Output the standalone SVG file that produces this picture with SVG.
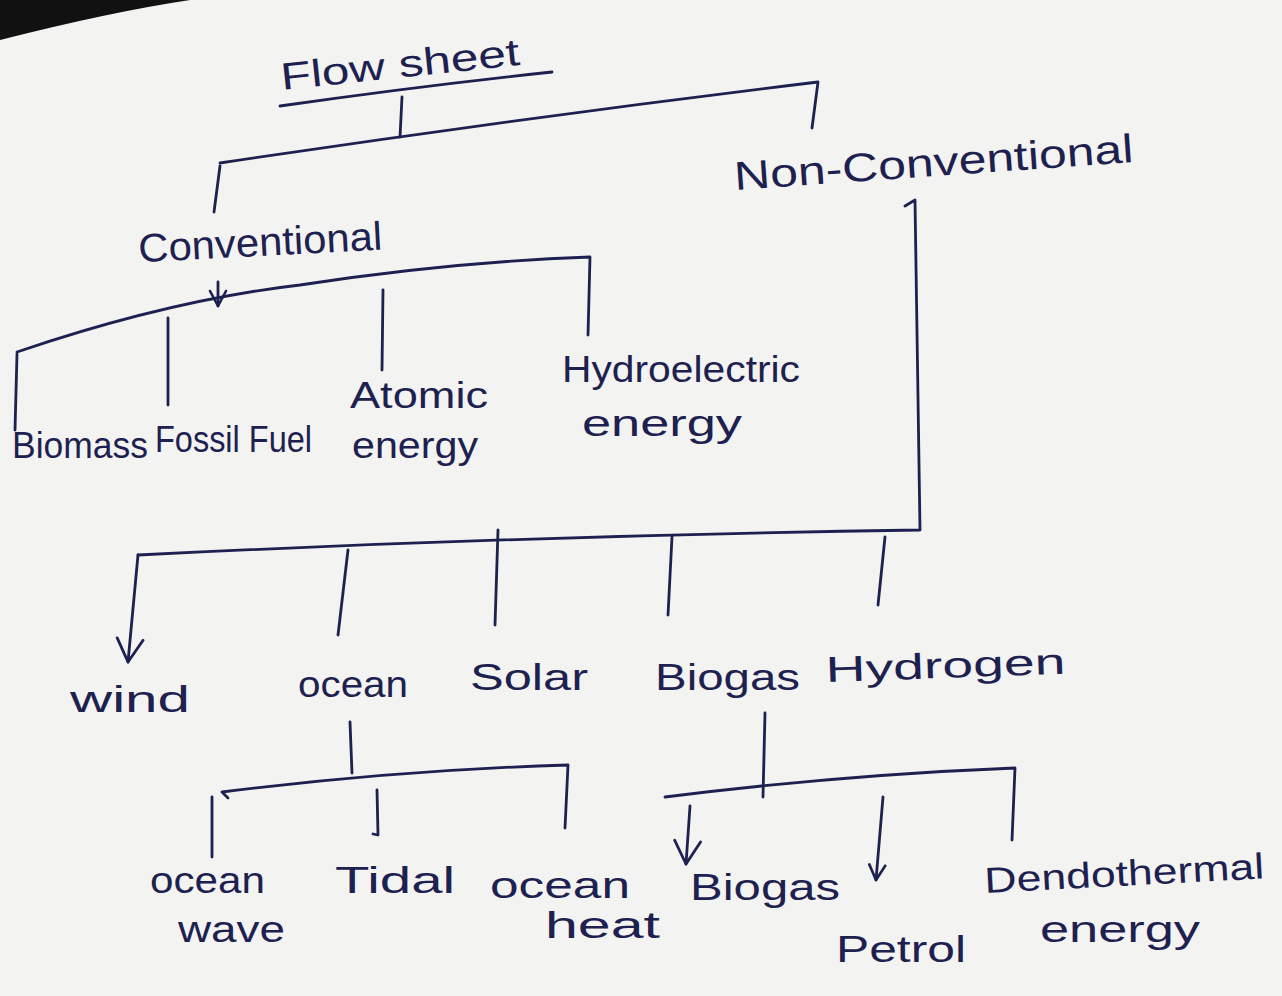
<svg xmlns="http://www.w3.org/2000/svg" width="1282" height="996" viewBox="0 0 1282 996">
  <defs>
    <style>
      .ink { fill: none; stroke: #1d2150; stroke-width: 2.8; stroke-linecap: round; stroke-linejoin: round; }
      .lbl { fill: #1d2150; font-family: "Liberation Sans", "DejaVu Sans", sans-serif; font-size: 36px; }
      .big { font-size: 40px; }
    </style>
    <!-- open V arrowheads, tip at the end of the line -->
    <marker id="vhead" viewBox="0 0 20 20" refX="18" refY="10" markerWidth="20" markerHeight="20" markerUnits="userSpaceOnUse" orient="auto">
      <path d="M3,2 L18,10 L3,18" fill="none" stroke="#1d2150" stroke-width="2.6" stroke-linecap="round" stroke-linejoin="round"/>
    </marker>
    <marker id="vhead-lg" viewBox="0 0 30 30" refX="27" refY="15" markerWidth="30" markerHeight="30" markerUnits="userSpaceOnUse" orient="auto">
      <path d="M4,2 L27,15 L4,28" fill="none" stroke="#1d2150" stroke-width="2.8" stroke-linecap="round" stroke-linejoin="round"/>
    </marker>
  </defs>

  <!-- paper -->
  <rect width="1282" height="996" fill="#f3f3f1"/>
  <path d="M0,0 L190,0 Q110,12 0,40 Z" fill="#111"/>

  <!-- connectors -->
  <g id="connectors" class="ink">
    <!-- title underline and stem -->
    <path d="M280,106 Q420,86 552,72"/>
    <path d="M402,97 L400,137"/>
    <!-- root split -->
    <path d="M220,163 Q520,118 818,82 L812,128"/>
    <path d="M220,166 L214,212"/>
    <!-- conventional split -->
    <path d="M218,282 L218,306" marker-end="url(#vhead)"/>
    <path d="M17,352 Q170,300 300,285 Q450,262 590,257 L588,335"/>
    <path d="M17,354 L15,430"/>
    <path d="M168,318 L168,405"/>
    <path d="M383,290 L382,370"/>
    <!-- non-conventional split -->
    <path d="M905,206 L915,200 L920,530 Q520,536 138,555"/>
    <path d="M138,555 L128,662" marker-end="url(#vhead-lg)"/>
    <path d="M348,550 L338,635"/>
    <path d="M498,530 L495,625"/>
    <path d="M672,537 L668,615"/>
    <path d="M885,537 L878,605"/>
    <!-- ocean split -->
    <path d="M350,722 L352,773"/>
    <path d="M228,798 L222,792 Q400,770 568,765 L565,828"/>
    <path d="M212,797 L212,857"/>
    <path d="M377,790 L378,835 L373,834"/>
    <!-- biogas split -->
    <path d="M765,713 L763,797"/>
    <path d="M665,797 Q840,775 1015,768 L1012,840"/>
    <path d="M690,806 L686,864" marker-end="url(#vhead-lg)"/>
    <path d="M883,797 L876,880" marker-end="url(#vhead)"/>
  </g>

  <!-- nodes -->
  <g id="flow-sheet"><text class="lbl" x="282" y="90" textLength="240" lengthAdjust="spacingAndGlyphs" transform="rotate(-6 282 90)" style="font-size:38px">Flow sheet</text></g>
  <g id="conventional"><text class="lbl big" x="138" y="256" textLength="244" lengthAdjust="spacingAndGlyphs" transform="rotate(-3 260 240)">Conventional</text></g>
  <g id="non-conventional"><text class="lbl big" x="735" y="190" textLength="400" lengthAdjust="spacingAndGlyphs" transform="rotate(-4 735 190)">Non-Conventional</text></g>

  <g id="biomass"><text class="lbl" x="12" y="458" textLength="136" lengthAdjust="spacingAndGlyphs">Biomass</text></g>
  <g id="fossil-fuel"><text class="lbl" x="155" y="452" textLength="157" lengthAdjust="spacingAndGlyphs">Fossil Fuel</text></g>
  <g id="atomic-energy">
    <text class="lbl" x="350" y="408" textLength="138" lengthAdjust="spacingAndGlyphs">Atomic</text>
    <text class="lbl" x="352" y="458" textLength="126" lengthAdjust="spacingAndGlyphs">energy</text>
  </g>
  <g id="hydroelectric-energy">
    <text class="lbl" x="562" y="382" textLength="238" lengthAdjust="spacingAndGlyphs">Hydroelectric</text>
    <text class="lbl" x="582" y="436" textLength="160" lengthAdjust="spacingAndGlyphs">energy</text>
  </g>

  <g id="wind"><text class="lbl" x="70" y="712" textLength="120" lengthAdjust="spacingAndGlyphs">wind</text></g>
  <g id="ocean"><text class="lbl" x="298" y="697" textLength="110" lengthAdjust="spacingAndGlyphs">ocean</text></g>
  <g id="solar"><text class="lbl" x="470" y="690" textLength="118" lengthAdjust="spacingAndGlyphs">Solar</text></g>
  <g id="biogas"><text class="lbl" x="655" y="690" textLength="145" lengthAdjust="spacingAndGlyphs">Biogas</text></g>
  <g id="hydrogen"><text class="lbl" x="826" y="682" textLength="240" lengthAdjust="spacingAndGlyphs" transform="rotate(-2 826 682)">Hydrogen</text></g>

  <g id="ocean-wave">
    <text class="lbl" x="150" y="893" textLength="115" lengthAdjust="spacingAndGlyphs">ocean</text>
    <text class="lbl" x="178" y="942" textLength="107" lengthAdjust="spacingAndGlyphs">wave</text>
  </g>
  <g id="tidal"><text class="lbl" x="335" y="893" textLength="120" lengthAdjust="spacingAndGlyphs">Tidal</text></g>
  <g id="ocean-heat">
    <text class="lbl" x="490" y="898" textLength="140" lengthAdjust="spacingAndGlyphs">ocean</text>
    <text class="lbl" x="545" y="938" textLength="115" lengthAdjust="spacingAndGlyphs">heat</text>
  </g>
  <g id="biogas-2"><text class="lbl" x="690" y="900" textLength="150" lengthAdjust="spacingAndGlyphs">Biogas</text></g>
  <g id="petrol"><text class="lbl" x="836" y="962" textLength="130" lengthAdjust="spacingAndGlyphs">Petrol</text></g>
  <g id="dendothermal-energy">
    <text class="lbl" x="985" y="893" textLength="280" lengthAdjust="spacingAndGlyphs" transform="rotate(-3 985 893)">Dendothermal</text>
    <text class="lbl" x="1040" y="942" textLength="160" lengthAdjust="spacingAndGlyphs">energy</text>
  </g>
</svg>
